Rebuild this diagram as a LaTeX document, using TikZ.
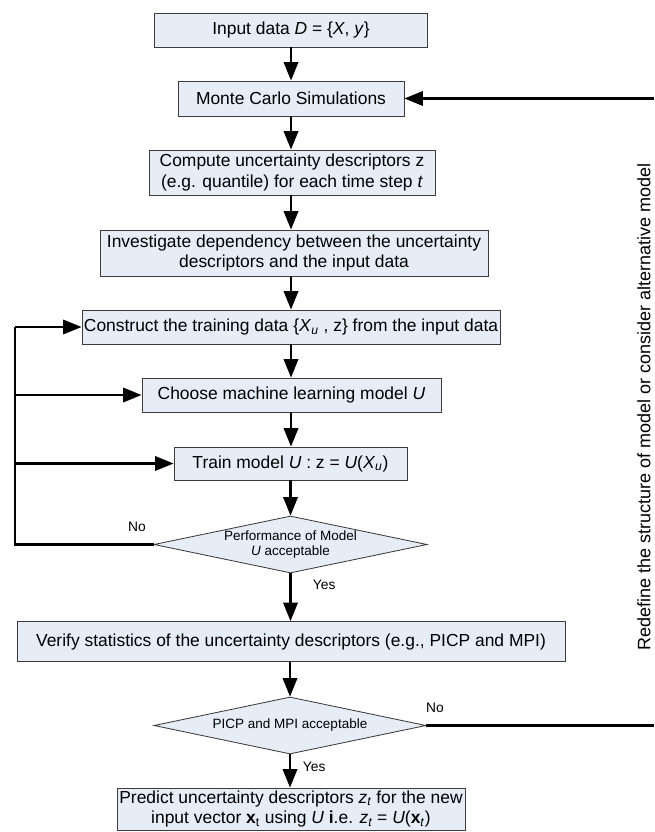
\documentclass[tikz,border=0pt]{standalone}
\usepackage{fontspec}
\setmainfont{Liberation Sans}
\usepackage{xcolor}
\usetikzlibrary{arrows.meta,shapes.geometric}
\definecolor{boxfill}{RGB}{230,237,247}
\definecolor{edge}{RGB}{60,60,60}

\begin{document}
\begin{tikzpicture}[x=0.025cm, y=-0.025cm,
  box/.style={draw=edge, line width=0.6pt, fill=boxfill, inner sep=1pt, align=center, font=\fontsize{12.4}{14.6}\selectfont},
  dec/.style={draw=edge, line width=0.6pt, fill=boxfill, diamond, aspect=4.8, inner sep=0pt, align=center, font=\fontsize{9.6}{11.2}\selectfont},
  arrow/.style={-{Triangle[length=0.46cm,width=0.36cm]}, line width=1.5pt},
  line/.style={line width=1.5pt},
  lab/.style={font=\fontsize{9.8}{11}\selectfont}
]
\useasboundingbox (0,0) rectangle (654,832);
\node[box, minimum width=6.825cm, minimum height=0.85cm] (input) at (291,30) {Input data \textit{D} = \{\textit{X}, \textit{y}\}};
\node[box, minimum width=5.65cm, minimum height=0.875cm] (mc) at (291,98.5) {Monte Carlo Simulations};
\node[box, minimum width=7.15cm, minimum height=1.125cm] (desc) at (292,172.5) {Compute uncertainty descriptors z\\(e.g. quantile) for each time step \textit{t}};
\node[box, minimum width=9.7cm, minimum height=1.15cm] (dep) at (294,253) {Investigate dependency between the uncertainty\\descriptors and the input data};
\node[box, minimum width=10.45cm, minimum height=0.85cm] (train) at (291,327) {Construct the training data \{\textit{X}\textsubscript{\textit{u}} , z\} from the input data};
\node[box, minimum width=7.475cm, minimum height=0.85cm] (choose) at (291.5,395) {Choose machine learning model \textit{U}};
\node[box, minimum width=5.825cm, minimum height=0.825cm] (fit) at (290.5,463.5) {Train model \textit{U} : z = \textit{U}(\textit{X}\textsubscript{\textit{u}})};
\node[dec, minimum width=6.825cm, minimum height=1.425cm] (perf) at (290.5,544.5) {Performance of Model\\\textit{U} acceptable};
\node[box, minimum width=13.7cm, minimum height=1.0cm] (verify) at (291,641.5) {Verify statistics of the uncertainty descriptors (e.g., PICP and MPI)};
\node[dec, minimum width=6.8cm, minimum height=1.425cm] (picp) at (290,725.5) {PICP and MPI acceptable};
\node[box, minimum width=8.7cm, minimum height=1.05cm] (pred) at (291,809) {Predict uncertainty descriptors \textit{z\textsubscript{t}} for the new\\input vector \textbf{x}\textsubscript{t} using \textit{U} \textbf{i}.e. \textit{z\textsubscript{t}} = \textit{U}(\textbf{x}\textsubscript{\textit{t}})};
\node[lab] (no1) at (137,527) {No};
\node[lab, anchor=west] (yes1) at (308,585) {Yes};
\node[lab] (no2) at (435,708) {No};
\node[lab, anchor=west] (yes2) at (298,767) {Yes};
\node[rotate=90, inner sep=0pt, font=\fontsize{12.8}{15}\selectfont] (redefine) at (644,407) {Redefine the structure of model or consider alternative model};
\coordinate (loopL) at (15,327);
\coordinate (loopR) at (654,98.5);
\draw[arrow] (input) -- (mc);
\draw[arrow] (mc) -- (mc |- desc.north);
\draw[arrow] (desc.south -| mc) -- (mc |- dep.north);
\draw[arrow] (dep.south -| mc) -- (mc |- train.north);
\draw[arrow] (train.south -| mc) -- (mc |- choose.north);
\draw[arrow] (choose.south -| mc) -- (mc |- fit.north);
\draw[arrow] (fit.south -| perf) -- (perf.north);
\draw[arrow] (perf.south) -- (perf.south |- verify.north);
\draw[arrow] (verify.south -| picp) -- (picp.north);
\draw[arrow] (picp.south) -- (picp.south |- pred.north);
\draw[line] (perf.west) -- (perf.west -| loopL) -- (loopL);
\draw[arrow] (loopL) -- (train.west);
\draw[arrow] (choose.west -| loopL) -- (choose.west);
\draw[arrow] (fit.west -| loopL) -- (fit.west);
\draw[line] (picp.east) -- (picp.east -| loopR);
\draw[arrow] (loopR) -- (mc.east);
\end{tikzpicture}
\end{document}
